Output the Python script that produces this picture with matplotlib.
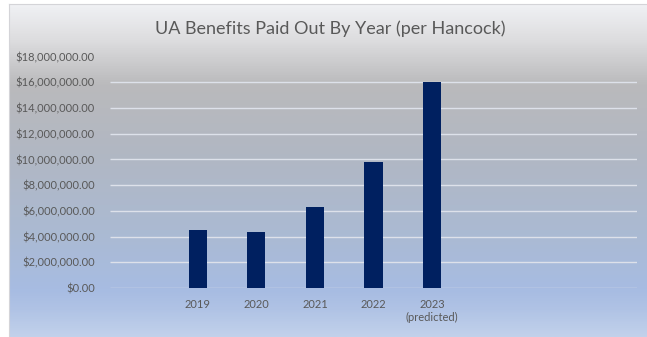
import matplotlib.pyplot as plt
import numpy as np
from matplotlib.colors import LinearSegmentedColormap
from matplotlib.ticker import FuncFormatter

# 연도별 지급액 (빈 칸은 엑셀 차트의 빈 범주)
categories = ['', '2019', '2020', '2021', '2022', '2023\n(predicted)', '', '', '']
payouts = [np.nan, 4.5e6, 4.33e6, 6.31e6, 9.82e6, 16.0e6, np.nan, np.nan, np.nan]
y_ticks = [0, 2e6, 4e6, 6e6, 8e6, 10e6, 12e6, 14e6, 16e6, 18e6]

plt.rcParams['font.family'] = ['Lato', 'DejaVu Sans']

fig = plt.figure(figsize=(6.47, 3.37), dpi=100)

# 배경 그라데이션 (위: 밝은 회색 -> 아래: 하늘색)
bg = fig.add_axes([9 / 647, 0, 638 / 647, 333 / 337])
stops = [(0.0, '#f0f1f4'), (0.11, '#dcdcde'), (0.24, '#bababc'),
         (0.45, '#b1b7c3'), (0.68, '#abbad2'), (0.86, '#a7bce2'),
         (0.92, '#b0c3e5'), (1.0, '#c2d1eb')]
grad_cmap = LinearSegmentedColormap.from_list('bg_grad', stops)
grad = np.linspace(0, 1, 400).reshape(-1, 1)
bg.imshow(grad, aspect='auto', cmap=grad_cmap, extent=[0, 1, 0, 1], origin='upper')
bg.set_xlim(0, 1)
bg.set_ylim(0, 1)
for side in ['right', 'bottom']:
    bg.spines[side].set_visible(False)
for side in ['top', 'left']:
    bg.spines[side].set_color('#d4d4d8')
    bg.spines[side].set_linewidth(0.8)
bg.set_xticks([])
bg.set_yticks([])

# 본 차트
ax = fig.add_axes([110 / 647, 49 / 337, 527 / 647, 231.5 / 337])
ax.patch.set_alpha(0)
x = np.arange(len(categories))
ax.bar(x, payouts, width=0.31, color='#002060', zorder=3)

ax.set_xlim(-0.5, len(categories) - 0.5)
ax.set_ylim(0, 18e6)
ax.set_yticks(y_ticks)
ax.yaxis.set_major_formatter(FuncFormatter(lambda v, p: f'${v:,.2f}'))
ax.set_xticks(x)
ax.set_xticklabels(categories)

# 눈금선 (맨 위 18M 선은 그리지 않음)
ax.hlines(y_ticks[:-1], -0.5, len(categories) - 0.5, colors='#dde1ea',
          linewidth=1.0, zorder=1)

for s in ax.spines.values():
    s.set_visible(False)
ax.tick_params(axis='both', length=0, labelsize=8, labelcolor='#595959')
ax.tick_params(axis='x', pad=8)
ax.tick_params(axis='y', pad=11)

fig.text(0.51, 0.915, 'UA Benefits Paid Out By Year (per Hancock)',
         ha='center', va='center', fontsize=13, color='#595959')

fig.savefig('out.png', dpi=100)
